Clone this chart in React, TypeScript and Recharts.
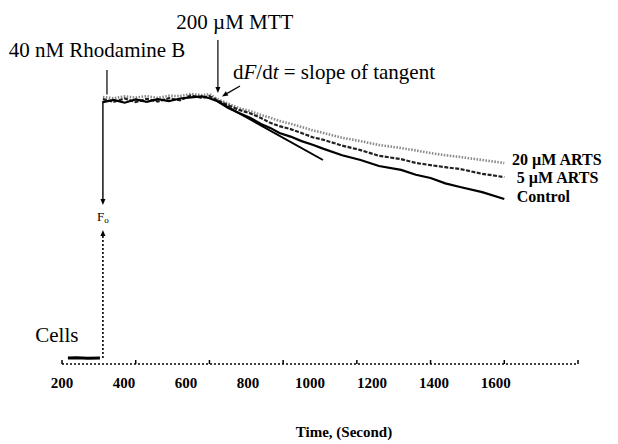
import React from 'react';
import { LineChart, Line, XAxis, YAxis, ReferenceLine, ReferenceDot } from 'recharts';

const SERIF = '"Liberation Serif", "Times New Roman", serif';

// Cells baseline before dye addition (time s, fluorescence a.u.)
const cellsTime = [216, 240, 270, 303];
const cellsSignal = [2.0, 2.1, 1.9, 2.0];

// Traces after 40 nM Rhodamine B (time s)
const time = [311, 340, 370, 400, 430, 460, 490, 520, 550, 580, 600, 620, 650, 680, 710, 740, 765, 790, 820, 850, 880, 910, 960, 1010, 1060, 1120, 1160, 1200, 1240, 1280, 1340, 1400];
const control = [87.3, 88.0, 87.1, 88.2, 87.4, 88.3, 87.6, 88.5, 88.9, 89.2, 88.6, 87.7, 85.4, 83.7, 82.1, 80.0, 78.7, 77.0, 75.8, 74.3, 73.1, 71.7, 69.6, 68.0, 66.0, 64.7, 63.1, 62.0, 60.2, 59.0, 57.3, 55.0];
const arts5 = [88.3, 87.4, 88.5, 87.3, 88.4, 87.5, 88.6, 87.9, 89.5, 88.7, 89.3, 88.0, 86.3, 84.7, 83.6, 82.0, 80.4, 79.3, 78.3, 77.0, 75.6, 74.7, 72.8, 71.3, 69.4, 68.3, 67.0, 66.3, 65.6, 65.0, 63.4, 62.3];
const arts20 = [89.0, 88.6, 89.2, 88.8, 89.3, 88.7, 89.4, 89.3, 90.0, 89.6, 90.0, 88.4, 86.8, 85.3, 84.3, 83.0, 82.1, 81.0, 80.1, 79.0, 77.9, 77.0, 75.4, 74.3, 73.0, 72.0, 71.2, 70.3, 69.6, 69.0, 68.0, 67.0];

// Axis ticks
const markTicks = [200, 400, 600, 800, 1000, 1200, 1400, 1600];
const tickLabels = [200, 400, 600, 800, 1000, 1200, 1400, 1600];

// Tangent at MTT addition (start / end in data units)
const tangentTime = [620, 908];
const tangentValue = [87.7, 68.0];

const rows = time.map((t, i) => ({ t, control: control[i], arts5: arts5[i], arts20: arts20[i] }));
const cellsRows = cellsTime.map((t, i) => ({ t, cells: cellsSignal[i] }));

type Ann = { text: string; t: number; v: number; size: number; bold?: boolean; anchor: 'start' | 'middle' | 'end'; kind?: string };
const annotations: Ann[] = [
  { text: '40 nM Rhodamine B', t: 295, v: 104.7, size: 21, anchor: 'middle' },
  { text: '200 \u00b5M MTT', t: 669, v: 114, size: 21, anchor: 'middle' },
  { text: 'slope', t: 664, v: 97.3, size: 21, anchor: 'start', kind: 'slope' },
  { text: '20 \u00b5M ARTS', t: 1421, v: 68, size: 16, bold: true, anchor: 'start' },
  { text: '5 \u00b5M ARTS', t: 1434, v: 62, size: 16, bold: true, anchor: 'start' },
  { text: 'Control', t: 1434, v: 55.7, size: 16, bold: true, anchor: 'start' },
  { text: 'Cells', t: 186, v: 9.7, size: 21, anchor: 'middle' },
  { text: 'F0', t: 311, v: 49, size: 13, anchor: 'middle', kind: 'f0' },
];

type Arrow = { t1: number; v1: number; t2: number; v2: number; head: boolean; dash?: string; width: number };
const arrows: Arrow[] = [
  { t1: 322, v1: 98, t2: 322, v2: 89.8, head: false, width: 1.2 },
  { t1: 623, v1: 108, t2: 623, v2: 90.3, head: true, width: 1.2 },
  { t1: 683, v1: 92.7, t2: 634, v2: 89.2, head: true, width: 1.2 },
  { t1: 311, v1: 87.7, t2: 311, v2: 53, head: true, width: 1.4 },
  { t1: 311, v1: 2, t2: 311, v2: 44.7, head: true, dash: '2 2', width: 1.6 },
];

const arrowShape = (a: Arrow) => (p: any) => {
  const x1 = Number(p.x1), y1 = Number(p.y1), x2 = Number(p.x2), y2 = Number(p.y2);
  const dx = x2 - x1, dy = y2 - y1;
  const len = Math.sqrt(dx * dx + dy * dy) || 1;
  const ux = dx / len, uy = dy / len;
  const hl = 6, hw = 2.5;
  const bx = x2 - ux * hl, by = y2 - uy * hl;
  const pts = `${x2},${y2} ${bx - uy * hw},${by + ux * hw} ${bx + uy * hw},${by - ux * hw}`;
  return (
    <g>
      <line x1={x1} y1={y1} x2={a.head ? bx : x2} y2={a.head ? by : y2} stroke="#000" strokeWidth={a.width} strokeDasharray={a.dash} />
      {a.head && <polygon points={pts} fill="#000" />}
    </g>
  );
};

const textShape = (a: Ann) => (p: any) => {
  const cx = Number(p.cx), cy = Number(p.cy);
  const base = cy + a.size * 0.33;
  const common = {
    x: cx,
    y: base,
    textAnchor: a.anchor,
    fontFamily: SERIF,
    fontSize: a.size,
    fontWeight: a.bold ? 'bold' : 'normal',
    fill: '#000',
  } as any;
  if (a.kind === 'slope') {
    return (
      <text {...common}>
        d<tspan fontStyle="italic">F</tspan>/d<tspan fontStyle="italic">t</tspan> = slope of tangent
      </text>
    );
  }
  if (a.kind === 'f0') {
    return (
      <text {...common}>
        F<tspan fontSize={9} dy={2}>o</tspan>
      </text>
    );
  }
  return <text {...common}>{a.text}</text>;
};

const EmptyTick = () => <g />;

const LabelTick = (props: any) => {
  const { x, y, payload } = props;
  return (
    <text x={x} y={y} dy="0.71em" textAnchor="middle" fontFamily={SERIF} fontWeight="bold" fontSize={15} fill="#000">
      {payload.value}
    </text>
  );
};

const AxisTitle = (props: any) => {
  const vb = props.viewBox || {};
  return (
    <text x={vb.x + vb.width / 2 + 24} y={vb.y + vb.height - 7} textAnchor="middle" fontFamily={SERIF} fontSize={15} fontWeight="bold" fill="#000">
      Time, (Second)
    </text>
  );
};

export default function App() {
  return (
    <div style={{ width: 610, height: 436, background: '#fff' }}>
      <LineChart width={610} height={436} margin={{ top: 8, right: 40, left: 54, bottom: 0 }}>
        <XAxis
          dataKey="t"
          type="number"
          domain={[200, 1600]}
          ticks={markTicks}
          tick={<EmptyTick />}
          tickSize={-4}
          height={4}
          interval={0}
          allowDataOverflow
          axisLine={{ stroke: '#000', strokeDasharray: '2 2', strokeWidth: 1.5 }}
          tickLine={{ stroke: '#000', strokeWidth: 1.5 }}
        />
        <XAxis
          xAxisId="lab"
          dataKey="t"
          type="number"
          domain={[200, 1865]}
          ticks={tickLabels}
          axisLine={false}
          tickLine={false}
          tickSize={0}
          tickMargin={9}
          height={76}
          interval={0}
          allowDataOverflow
          tick={<LabelTick />}
          label={<AxisTitle />}
        />
        <YAxis hide type="number" domain={[0, 116]} allowDataOverflow />
        <Line data={rows} dataKey="control" xAxisId="lab" stroke="none" dot={false} activeDot={false} legendType="none" isAnimationActive={false} />
        <Line data={cellsRows} dataKey="cells" stroke="#000" strokeWidth={3} dot={false} isAnimationActive={false} />
        <Line data={rows} dataKey="arts20" stroke="#888" strokeWidth={2.6} strokeDasharray="1.5 1.5" dot={false} isAnimationActive={false} />
        <Line data={rows} dataKey="arts5" stroke="#222" strokeWidth={2.2} strokeDasharray="4 1.5" dot={false} isAnimationActive={false} />
        <Line data={rows} dataKey="control" stroke="#000" strokeWidth={2.2} dot={false} isAnimationActive={false} />
        <ReferenceLine
          segment={[{ x: tangentTime[0], y: tangentValue[0] }, { x: tangentTime[1], y: tangentValue[1] }]}
          stroke="#000"
          strokeWidth={2}
        />
        {arrows.map((a, i) => (
          <ReferenceLine key={'a' + i} segment={[{ x: a.t1, y: a.v1 }, { x: a.t2, y: a.v2 }]} shape={arrowShape(a)} ifOverflow="visible" />
        ))}
        {annotations.map((a, i) => (
          <ReferenceDot key={'t' + i} x={a.t} y={a.v} r={0} ifOverflow="visible" shape={textShape(a)} />
        ))}
      </LineChart>
    </div>
  );
}
